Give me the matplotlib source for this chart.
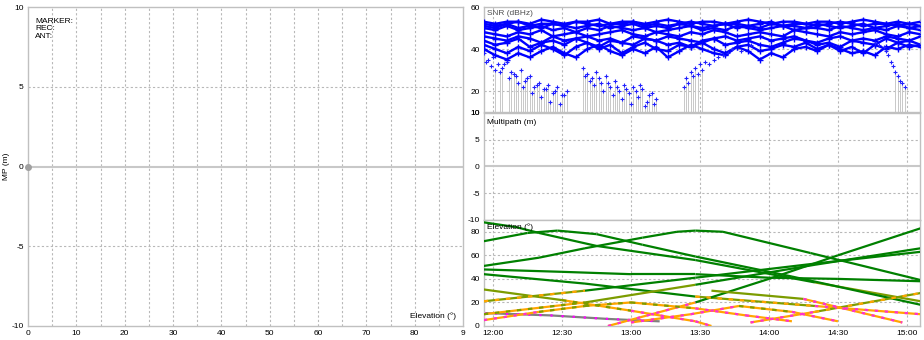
import numpy as np
import matplotlib
matplotlib.use('Agg')
import matplotlib.pyplot as plt

plt.rcParams['font.family'] = ['Liberation Sans', 'DejaVu Sans']
plt.rcParams['axes.unicode_minus'] = False

# ---- data (time in minutes after 12:00) ----
time_ticks = [0, 30, 60, 90, 120, 150, 180]
time_labels = ['12:00', '12:30', '13:00', '13:30', '14:00', '14:30', '15:00']

# SNR of the strong satellites, sampled every 5 min
snr_t = [-4, 1, 6, 11, 16, 21, 26, 31, 36, 41, 46, 51, 56, 61, 66, 71, 76, 81, 86, 91,
         96, 101, 106, 111, 116, 121, 126, 131, 136, 141, 146, 151, 156, 161, 166, 171,
         176, 181, 186]
snr_1 = [53,52,53,53,52,54,53,52,53,53,54,52,53,53,52,53,54,53,52,53,53,52,53,54,53,52,53,53,52,53,53,52,53,54,53,52,53,52,53]
snr_2 = [52,51,52,53,51,52,52,51,53,52,51,52,52,53,51,52,51,52,53,52,51,52,52,51,52,53,51,52,52,51,52,53,52,51,52,52,51,52,51]
snr_3 = [51,50,52,50,51,50,52,51,50,51,52,50,51,52,50,51,50,52,51,50,51,52,50,51,50,52,51,51,50,52,51,50,51,52,50,51,52,50,51]
snr_4 = [50,49,51,49,50,51,49,50,48,50,49,51,50,49,50,48,49,50,51,49,50,49,51,50,49,50,51,49,50,50,49,51,50,49,50,49,51,50,49]
snr_5 = [48,47,46,48,47,49,46,47,48,46,47,48,49,47,46,48,47,46,48,47,49,48,46,47,48,47,46,49,48,47,46,48,47,48,49,47,46,48,47]
snr_6 = [46,45,44,46,45,43,46,44,45,46,44,45,43,46,45,44,46,45,44,43,45,46,44,45,46,44,45,46,44,43,45,46,44,45,44,46,45,44,46]
snr_7 = [44,42,43,45,41,43,44,42,45,43,41,44,43,42,45,44,42,43,41,44,45,42,43,44,42,41,43,45,44,42,43,41,44,43,42,45,43,44,42]
snr_8 = [42,40,38,41,39,42,40,37,41,43,40,42,38,41,43,40,39,42,41,43,40,38,41,42,39,40,42,41,43,40,42,39,41,38,42,40,43,41,42]
snr_9 = [40,37,35,38,36,39,41,38,36,40,42,39,37,40,38,41,36,39,42,40,38,37,41,39,35,38,36,40,41,39,42,40,38,39,37,41,40,42,41]
band_series = [snr_1, snr_2, snr_3, snr_4, snr_5, snr_6, snr_7, snr_8, snr_9]

# weak satellites (low elevation)
low_t_1 = [-4, -2, 0, 2, 4, 6, 8, 10, 12, 14, 16, 18, 20, 22, 24, 26, 28, 30, 32]
low_s_1 = [38, 35, 36, 33, 31, 34, 29, 27, 30, 25, 27, 22, 24, 21, 23, 19, 22, 18, 20]
low_t_2 = [-3, -1, 1, 3, 5, 7, 9, 11, 13, 15, 17, 19, 21, 23, 25, 27, 29, 31]
low_s_2 = [34, 32, 30, 29, 33, 26, 28, 24, 22, 26, 19, 23, 17, 21, 15, 20, 14, 18]
low_t_3 = [39, 41, 43, 45, 47, 49, 51, 53, 55, 57, 59, 61, 63, 65, 67, 69, 71]
low_s_3 = [31, 28, 26, 29, 24, 27, 22, 25, 20, 23, 19, 22, 17, 21, 15, 19, 16]
low_t_4 = [40, 42, 44, 46, 48, 50, 52, 54, 56, 58, 60, 62, 64, 66, 68, 70]
low_s_4 = [27, 25, 23, 26, 20, 24, 18, 22, 16, 21, 14, 20, 23, 13, 18, 14]
low_t_5 = [83, 84, 85, 86, 87, 88, 89, 90, 91, 92, 94, 96, 98, 100, 102, 104, 108, 112]
low_s_5 = [22, 26, 24, 29, 27, 31, 28, 33, 30, 34, 33, 35, 36, 37, 38, 40, 39, 42]
low_t_6 = [166, 168, 170, 171, 172, 173, 174, 175, 176, 177, 178, 179]
low_s_6 = [43, 42, 41, 39, 37, 34, 32, 29, 27, 25, 24, 22]
low_series = [(low_t_1, low_s_1), (low_t_2, low_s_2), (low_t_3, low_s_3),
              (low_t_4, low_s_4), (low_t_5, low_s_5), (low_t_6, low_s_6)]

# satellite elevation tracks (time, elevation deg)
trk_a_t = [-4, 10, 20, 45, 88, 140, 186];            trk_a_e = [88, 84, 79, 68, 56, 37, 21]
trk_b_t = [-4, 15, 28, 45, 65, 88, 130, 186];        trk_b_e = [72, 79, 81, 78, 69, 59, 42, 18]
trk_c_t = [-4, 20, 40, 65, 80, 88, 100, 138, 186];   trk_c_e = [51, 58, 66, 75, 80, 81, 80, 62, 39]
trk_d_t = [-4, 30, 60, 88, 120, 150, 186];           trk_d_e = [48, 46, 44, 44, 41, 40, 38]
trk_e_t = [-4, 40, 88, 140, 186];                    trk_e_e = [44, 36, 25, 17, 10]
trk_f_t = [-4, 30, 60, 88, 95];                      trk_f_e = [31, 22, 13, 4, 0]
trk_g_t = [50, 88, 120, 150, 186];                   trk_g_e = [0, 20, 40, 60, 83]
trk_h_t = [-4, 40, 88, 140, 186];                    trk_h_e = [21, 30, 41, 53, 63]
trk_i_t = [-4, 40, 88, 140, 186];                    trk_i_e = [10, 20, 35, 52, 66]
trk_j_t = [112, 140, 186];                           trk_j_e = [3, 12, 28]
trk_k_t = [-4, 20, 40, 60, 88, 110, 130];            trk_k_e = [5, 12, 17, 20, 15, 9, 4]
trk_l_t = [-4, 25, 50, 72];                          trk_l_e = [11, 9, 6, 4]
trk_m_t = [60, 86, 107, 130, 150];                   trk_m_e = [3, 10, 17, 12, 4]
trk_n_t = [95, 135, 178];                            trk_n_e = [30, 23, 3]
tracks = [(trk_a_t, trk_a_e), (trk_b_t, trk_b_e), (trk_c_t, trk_c_e), (trk_d_t, trk_d_e),
          (trk_e_t, trk_e_e), (trk_f_t, trk_f_e), (trk_g_t, trk_g_e), (trk_h_t, trk_h_e),
          (trk_i_t, trk_i_e), (trk_j_t, trk_j_e), (trk_k_t, trk_k_e), (trk_m_t, trk_m_e),
          (trk_n_t, trk_n_e)]
gray_tracks = [(trk_l_t, trk_l_e)]

# ---- styles ----
GRID = '#b8b8b8'
FRAME = '#c0c0c0'
FS = 6


def elev_color(e):
    if e >= 30:
        return '#008000'
    if e >= 20:
        return '#7c9c00'
    return '#ffa500'


def style_axes(ax):
    for s in ax.spines.values():
        s.set_color(FRAME)
        s.set_linewidth(1.0)
    ax.tick_params(length=0, labelsize=FS, pad=3, colors='#000000')
    ax.set_facecolor('white')


fig = plt.figure(figsize=(9.24, 3.40), dpi=100)

# left: multipath vs elevation
ax0 = fig.add_axes([28/924, 14/340, 435/924, 319/340])
style_axes(ax0)
ax0.set_xlim(0, 90)
ax0.set_ylim(-10, 10)
ax0.set_xticks(range(0, 91, 10))
ax0.set_xticklabels([str(v) for v in range(0, 90, 10)] + ['9'])
ax0.set_yticks([-10, -5, 0, 5, 10])
for v in range(5, 90, 5):
    ax0.axvline(v, color=GRID, lw=0.8, ls=(0, (2, 2)))
for v in [-5, 5]:
    ax0.axhline(v, color=GRID, lw=0.8, ls=(0, (2, 2)))
ax0.axhline(0, color='#c8c8c8', lw=1.5)
ax0.plot([0], [0], 'o', color='#a0a0a0', ms=4, clip_on=False, zorder=5)
ax0.set_ylabel('MP (m)', fontsize=FS, labelpad=1)
ax0.text(0.016, 0.965, 'MARKER:\nREC:\nANT:', transform=ax0.transAxes, fontsize=FS,
         va='top', ha='left', linespacing=1.05)
ax0.text(0.985, 0.02, 'Elevation (°)', transform=ax0.transAxes, fontsize=FS,
         va='bottom', ha='right')

xl = (-3.91, 185.7)

# right: SNR / multipath / elevation stacked
ax1 = fig.add_axes([484/924, 228/340, 436/924, 105/340])
ax2 = fig.add_axes([484/924, 120/340, 436/924, 107/340])
ax3 = fig.add_axes([484/924, 14/340, 436/924, 106/340])
for ax in (ax1, ax2, ax3):
    style_axes(ax)
    ax.set_xlim(*xl)
    ax.set_xticks(time_ticks)
    for v in time_ticks:
        ax.axvline(v, color=GRID, lw=0.8, ls=(0, (2, 2)), zorder=0)
ax1.set_xticklabels([])
ax2.set_xticklabels([])
ax3.set_xticklabels(time_labels)

ax1.set_ylim(10, 60)
ax1.set_yticks([10, 20, 40, 60])
for v in [20, 40]:
    ax1.axhline(v, color=GRID, lw=0.8, ls=(0, (2, 2)), zorder=0)
for lt, ls_ in low_series:
    lt = np.array(lt)
    ls_ = np.array(ls_)
    m = ls_ < 32
    ax1.vlines(lt[m], 10, ls_[m], color='#c8c8c8', lw=0.7, zorder=1)
for s in band_series:
    ax1.plot(snr_t, s, color='#0000ff', lw=1.7, marker='+', ms=5, mew=1.0, zorder=3)
for lt, ls_ in low_series:
    ax1.plot(lt, ls_, color='#2020ff', lw=0, marker='+', ms=3.5, mew=0.8, zorder=3)
ax1.text(0.008, 0.97, 'SNR (dBHz)', transform=ax1.transAxes, fontsize=FS, va='top',
         color='#505050', zorder=6)

# multipath
ax2.set_ylim(-10, 10)
ax2.set_yticks([-10, -5, 0, 5, 10])
for v in [-5, 5]:
    ax2.axhline(v, color=GRID, lw=0.8, ls=(0, (2, 2)), zorder=0)
ax2.axhline(0, color='#c8c8c8', lw=1.5)
ax2.text(0.008, 0.94, 'Multipath (m)', transform=ax2.transAxes, fontsize=FS, va='top')

# elevation
ax3.set_ylim(0, 90)
ax3.set_yticks([0, 20, 40, 60, 80])
for v in [20, 40, 60, 80]:
    ax3.axhline(v, color=GRID, lw=0.8, ls=(0, (2, 2)), zorder=0)
for tt, ee in gray_tracks:
    ax3.plot(tt, ee, color='#808080', lw=1.6, zorder=2)
    ax3.plot(tt, ee, color='#ff00ff', lw=1.6, ls=(0, (1, 4)), zorder=2)
for tt, ee in tracks:
    for i in range(len(tt) - 1):
        em = 0.5 * (ee[i] + ee[i + 1])
        c = elev_color(em)
        ax3.plot(tt[i:i + 2], ee[i:i + 2], color=c, lw=1.6, solid_capstyle='butt', zorder=3)
        if em < 14:
            ax3.plot(tt[i:i + 2], ee[i:i + 2], color='#ff30d0', lw=1.6,
                     ls=(0, (1.5, 3)), zorder=4)
        elif em < 26:
            ax3.plot(tt[i:i + 2], ee[i:i + 2], color='#ffa500' if em >= 20 else '#7c9c00',
                     lw=1.6, ls=(0, (2, 3)), zorder=4)
ax3.text(0.008, 0.97, 'Elevation (°)', transform=ax3.transAxes, fontsize=FS, va='top',
         zorder=6)

fig.savefig('out.png', dpi=100)
